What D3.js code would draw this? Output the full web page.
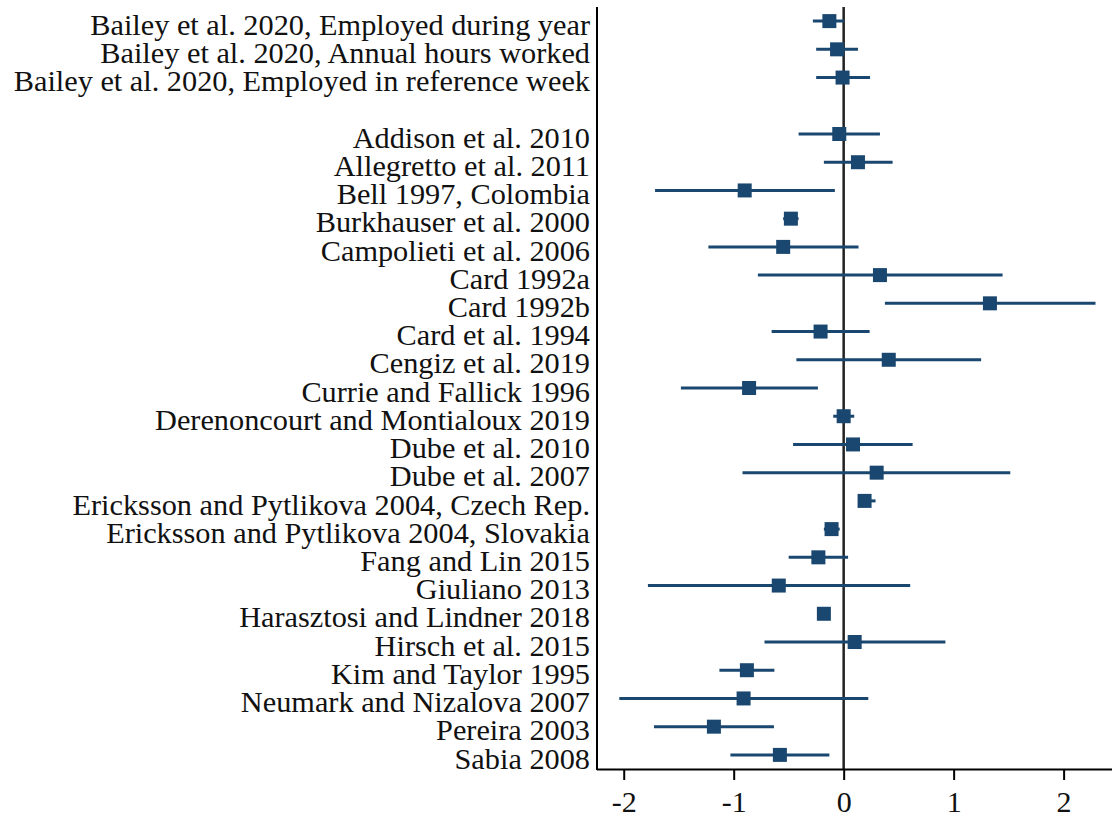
<!DOCTYPE html>
<html><head><meta charset="utf-8">
<script src="https://cdn.jsdelivr.net/npm/d3@7/dist/d3.min.js"></script>
<style>html,body{margin:0;padding:0;background:#fff;}svg{display:block;}</style>
</head><body>
<script>
const studies = [
  "Bailey et al. 2020, Employed during year",
  "Bailey et al. 2020, Annual hours worked",
  "Bailey et al. 2020, Employed in reference week",
  "",
  "Addison et al. 2010",
  "Allegretto et al. 2011",
  "Bell 1997, Colombia",
  "Burkhauser et al. 2000",
  "Campolieti et al. 2006",
  "Card 1992a",
  "Card 1992b",
  "Card et al. 1994",
  "Cengiz et al. 2019",
  "Currie and Fallick 1996",
  "Derenoncourt and Montialoux 2019",
  "Dube et al. 2010",
  "Dube et al. 2007",
  "Ericksson and Pytlikova 2004, Czech Rep.",
  "Ericksson and Pytlikova 2004, Slovakia",
  "Fang and Lin 2015",
  "Giuliano 2013",
  "Harasztosi and Lindner 2018",
  "Hirsch et al. 2015",
  "Kim and Taylor 1995",
  "Neumark and Nizalova 2007",
  "Pereira 2003",
  "Sabia 2008"
];
const estimates = [-0.13,-0.06,-0.01,null,-0.04,0.13,-0.90,-0.48,-0.55,0.33,1.33,-0.21,0.41,-0.86,0.00,0.085,0.30,0.19,-0.11,-0.23,-0.59,-0.18,0.10,-0.88,-0.91,-1.18,-0.58];
const ciLow   = [-0.28,-0.25,-0.25,null,-0.41,-0.18,-1.715,-0.55,-1.23,-0.78,0.375,-0.655,-0.43,-1.48,-0.095,-0.46,-0.92,0.18,-0.18,-0.50,-1.78,-0.20,-0.72,-1.13,-2.04,-1.725,-1.03];
const ciHigh  = [0.005,0.13,0.24,null,0.33,0.445,-0.08,-0.41,0.135,1.445,2.29,0.236,1.25,-0.234,0.096,0.627,1.515,0.29,-0.036,0.04,0.605,-0.16,0.925,-0.63,0.224,-0.634,-0.13];
const xTicks = [-2,-1,0,1,2];

const W = 1112, H = 821;
const mLeft = 597, mRight = 1112, mTop = 7, mBottom = 769;
const svg = d3.select("body").append("svg").attr("width", W).attr("height", H);

const x = d3.scaleLinear().domain([-2.243, 2.44]).range([mLeft, mRight]);
const y = d3.scalePoint().domain(d3.range(studies.length)).range([mTop, mBottom]).padding(0.5);

const rows = studies.map((s,i)=>({s, i, est: estimates[i], lo: ciLow[i], hi: ciHigh[i]})).filter(d=>d.est!==null);
const color = "#1a476f";
const font = "'Liberation Serif', 'Times New Roman', serif";

// zero line
svg.append("line").attr("x1", x(0)).attr("x2", x(0)).attr("y1", mTop).attr("y2", mBottom)
  .attr("stroke", "#222").attr("stroke-width", 2.5);

// whiskers
svg.append("g").selectAll("line").data(rows).join("line")
  .attr("x1", d=>x(d.lo)).attr("x2", d=>x(d.hi))
  .attr("y1", d=>y(d.i)).attr("y2", d=>y(d.i))
  .attr("stroke", color).attr("stroke-width", 3);

// markers
const ms = 14;
svg.append("g").selectAll("rect").data(rows).join("rect")
  .attr("x", d=>x(d.est)-ms/2).attr("y", d=>y(d.i)-ms/2)
  .attr("width", ms).attr("height", ms).attr("fill", color);

// labels
svg.append("g").selectAll("text").data(rows).join("text")
  .attr("x", 590).attr("y", d=>y(d.i)).attr("dy", "0.45em")
  .attr("text-anchor", "end").attr("font-family", font).attr("font-size", 30.3)
  .attr("fill", "#111").text(d=>d.s);

// left axis line
svg.append("line").attr("x1", mLeft).attr("x2", mLeft).attr("y1", mTop).attr("y2", mBottom+1)
  .attr("stroke", "#000").attr("stroke-width", 2);

// bottom axis
const ax = svg.append("g").attr("transform", `translate(0,${mBottom})`)
  .call(d3.axisBottom(x).tickValues(xTicks).tickSize(11).tickPadding(11).tickFormat(d3.format("d")));
ax.select(".domain").attr("stroke", "#000").attr("stroke-width", 2).attr("d", `M${mLeft},0.5H${mRight}`);
ax.selectAll(".tick line").attr("stroke", "#000").attr("stroke-width", 2);
ax.selectAll(".tick text").attr("font-family", font).attr("font-size", 30).attr("fill", "#111")
  .text(d => d < 0 ? "-" + Math.abs(d) : d);
</script>
</body></html>
